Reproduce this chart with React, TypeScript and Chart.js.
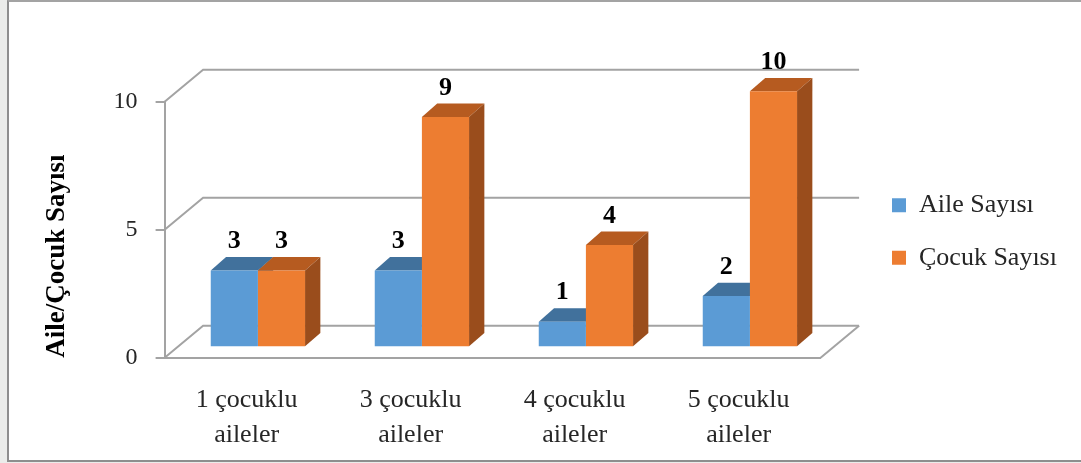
import React, { useEffect, useRef } from "react";
import { Chart, registerables } from "chart.js";

Chart.register(...registerables);

const CATEGORIES: string[][] = [
  ["1 çocuklu", "aileler"],
  ["3 çocuklu", "aileler"],
  ["4 çocuklu", "aileler"],
  ["5 çocuklu", "aileler"],
];
const SERIES_NAMES = ["Aile Sayısı", "Çocuk Sayısı"];
const AILE_SAYISI = [3, 3, 1, 2];
const COCUK_SAYISI = [3, 9, 4, 10];
const Y_TICKS = [0, 5, 10];
const Y_TITLE = "Aile/Çocuk Sayısı";

const FRONT_COLORS = ["#5b9bd5", "#ed7d31"];
const TOP_COLORS = ["#41719c", "#b65b20"];
const SIDE_COLORS = ["#3a668e", "#9a4d1c"];
const GRID = "#a3a3a3";
const TEXT = "#262626";
const FAMILY = '"Liberation Serif", "Times New Roman", serif';

// 3D geometry (pixels)
const DX = 11.3; // bar plane offset from front plane
const DY = -10.4;
const BX = 15.3; // bar depth
const BY = -13.4;
const WX = 38.5; // wall depth
const WY = -32;

const threeD = {
  id: "threeD",
  beforeDatasetsDraw(chart: any) {
    const { ctx, chartArea, scales } = chart;
    const ys = scales.y;
    ctx.save();
    ctx.strokeStyle = GRID;
    ctx.lineWidth = 2;
    ctx.lineJoin = "miter";
    for (const v of Y_TICKS) {
      const py = ys.getPixelForValue(v);
      ctx.beginPath();
      ctx.moveTo(chartArea.left, py);
      ctx.lineTo(chartArea.left + WX, py + WY);
      ctx.lineTo(chartArea.right + WX, py + WY);
      ctx.stroke();
    }
    const p0 = ys.getPixelForValue(0);
    ctx.beginPath();
    ctx.moveTo(chartArea.right, p0);
    ctx.lineTo(chartArea.right + WX, p0 + WY);
    ctx.stroke();

    const n = chart.data.labels.length;
    for (let i = 0; i < n; i++) {
      chart.data.datasets.forEach((_ds: any, di: number) => {
        const el = chart.getDatasetMeta(di).data[i];
        if (!el) return;
        const { x, y, base, width } = el.getProps(["x", "y", "base", "width"], true);
        const l = x - width / 2 + DX;
        const r = x + width / 2 + DX;
        const t = y + DY;
        const b = base + DY;
        ctx.fillStyle = TOP_COLORS[di];
        ctx.beginPath();
        ctx.moveTo(l, t);
        ctx.lineTo(r, t);
        ctx.lineTo(r + BX, t + BY);
        ctx.lineTo(l + BX, t + BY);
        ctx.closePath();
        ctx.fill();
        ctx.fillStyle = SIDE_COLORS[di];
        ctx.beginPath();
        ctx.moveTo(r, t);
        ctx.lineTo(r + BX, t + BY);
        ctx.lineTo(r + BX, b + BY);
        ctx.lineTo(r, b);
        ctx.closePath();
        ctx.fill();
      });
    }
    ctx.restore();
    ctx.save();
    ctx.translate(DX, DY);
  },
  afterDatasetsDraw(chart: any) {
    const { ctx } = chart;
    ctx.restore();
    ctx.save();
    ctx.font = `bold 26px ${FAMILY}`;
    ctx.fillStyle = "#000";
    ctx.textAlign = "center";
    ctx.textBaseline = "middle";
    chart.data.datasets.forEach((ds: any, di: number) => {
      chart.getDatasetMeta(di).data.forEach((el: any, i: number) => {
        const { x, y } = el.getProps(["x", "y"], true);
        ctx.fillText(String(ds.data[i]), x + DX, y + DY - 29);
      });
    });
    ctx.restore();
  },
};

export default function App() {
  const ref = useRef<HTMLCanvasElement>(null);

  useEffect(() => {
    if (!ref.current) return;
    const m = document.createElement("canvas").getContext("2d")!;
    m.font = `26px ${FAMILY}`;
    const w = Math.max(...SERIES_NAMES.map((s) => m.measureText(s).width));
    const LEG_PAD = 26.5;
    const padR = Math.max(0, 152 - w);

    const chart = new Chart(ref.current, {
      type: "bar",
      data: {
        labels: CATEGORIES,
        datasets: [
          {
            label: SERIES_NAMES[0],
            data: AILE_SAYISI,
            backgroundColor: FRONT_COLORS[0],
            xAxisID: "x",
            yAxisID: "y",
          },
          {
            label: SERIES_NAMES[1],
            data: COCUK_SAYISI,
            backgroundColor: FRONT_COLORS[1],
            xAxisID: "x",
            yAxisID: "y",
          },
        ],
      },
      options: {
        responsive: false,
        maintainAspectRatio: false,
        animation: false,
        events: [],
        layout: { padding: { left: 0, top: 0, bottom: 0, right: padR } },
        datasets: {
          bar: {
            categoryPercentage: 0.575,
            barPercentage: 1,
            clip: false as any,
          },
        },
        font: { family: FAMILY },
        scales: {
          x: {
            position: "bottom",
            grid: { display: false },
            border: { display: true, color: GRID, width: 2 },
            ticks: {
              color: TEXT,
              font: { family: FAMILY, size: 26, lineHeight: 1.35 },
              padding: 17,
              maxRotation: 0,
              autoSkip: false,
            },
            afterFit: (s: any) => {
              s.height = 105.3;
            },
          },
          y: {
            position: "left",
            min: 0,
            max: 10,
            afterBuildTicks: (s: any) => {
              s.ticks = Y_TICKS.map((v) => ({ value: v }));
            },
            grid: {
              display: true,
              drawOnChartArea: false,
              drawTicks: true,
              tickLength: 9,
              color: GRID,
              lineWidth: 2,
            },
            border: { display: true, color: GRID, width: 2 },
            ticks: {
              color: TEXT,
              font: { family: FAMILY, size: 24 },
              padding: 18,
            },
            title: {
              display: true,
              text: Y_TITLE,
              align: "start",
              color: "#000",
              font: { family: FAMILY, size: 27, weight: "bold" },
              padding: { top: 41, bottom: 0 },
            },
            afterFit: (s: any) => {
              s.width = 164.6;
            },
          },
          xTop: {
            type: "category",
            position: "top",
            grid: { display: false },
            border: { display: false },
            ticks: { display: false },
            afterFit: (s: any) => {
              s.height = 101.7;
            },
          },
          yR: {
            type: "linear",
            position: "right",
            grid: { display: false },
            border: { display: false },
            ticks: { display: false },
            afterFit: (s: any) => {
              s.width = 71.4 - LEG_PAD;
            },
          },
        } as any,
        plugins: {
          legend: {
            display: true,
            position: "right",
            maxWidth: 400,
            labels: {
              boxWidth: 14,
              boxHeight: 14,
              padding: LEG_PAD,
              color: TEXT,
              font: { family: FAMILY, size: 26 },
            },
          },
          tooltip: { enabled: false },
          title: { display: false },
        },
      },
      plugins: [threeD],
    });
    return () => chart.destroy();
  }, []);

  return (
    <div
      style={{
        position: "absolute",
        left: 0,
        top: 0,
        width: 1081,
        height: 463,
        background: "#ebecea",
        overflow: "hidden",
      }}
    >
      <div
        style={{
          position: "absolute",
          left: 7,
          top: 0,
          width: 1074,
          height: 462,
          boxSizing: "border-box",
          background: "#ffffff",
          borderLeft: "2px solid #8e8e8e",
          borderTop: "2px solid #a3a3a3",
          borderBottom: "2px solid #8e8e8e",
        }}
      />
      <canvas
        ref={ref}
        width={1081}
        height={463}
        style={{ position: "absolute", left: 0, top: 0, width: 1081, height: 463 }}
      />
    </div>
  );
}
